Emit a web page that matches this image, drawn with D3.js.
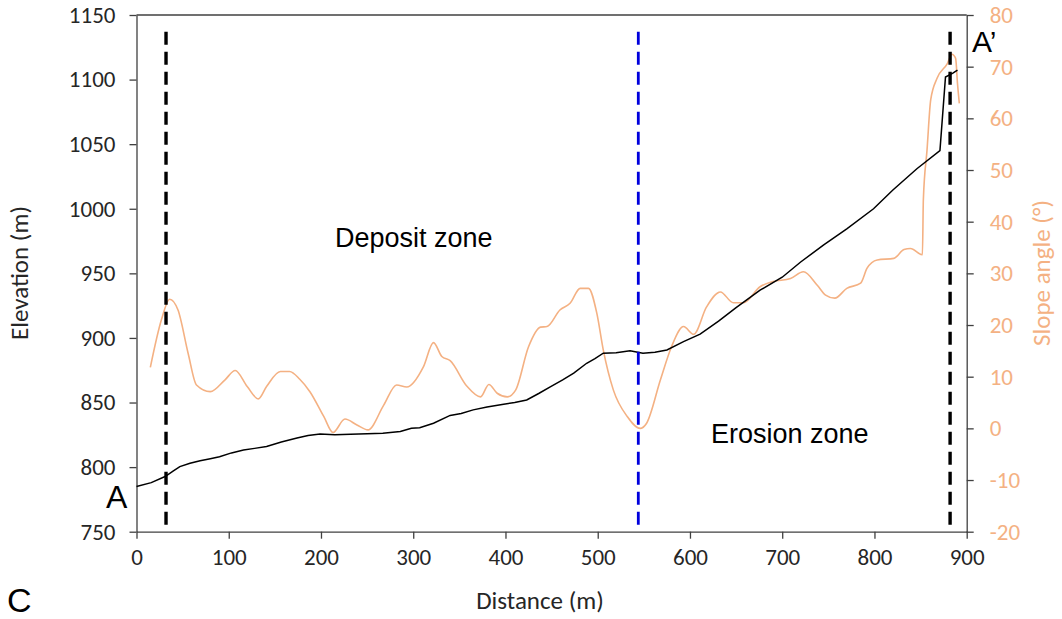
<!DOCTYPE html>
<html>
<head>
<meta charset="utf-8">
<script src="https://cdn.jsdelivr.net/npm/d3@7"></script>
<style>
  body { margin: 0; background: #fff; }
  svg { display: block; }
</style>
</head>
<body>
<div id="chart"></div>
<script>
// elevation profile (black line)
var elevDist = [0, 16, 31, 40, 47, 58, 69, 80, 90, 103, 116, 128, 141, 157, 174, 186, 199, 215, 232, 250, 267, 286, 298, 307, 322, 340, 352, 365, 380, 398, 410, 423, 436, 449, 462, 474, 488, 497, 506, 520, 535, 549, 562, 575, 593, 611, 631, 650, 676, 700, 720, 745, 770, 799, 820, 846, 871, 877, 885, 890];
var elevation = [785, 788, 792.7, 797, 800.4, 803, 805, 806.5, 808, 811, 813.3, 814.5, 816, 819.5, 822.6, 824.5, 825.7, 825, 825.5, 825.8, 826.2, 827.5, 830, 830.5, 834, 840, 841.5, 844.3, 846.5, 848.7, 850, 852, 857, 862.3, 867.5, 872.7, 880.4, 884, 888.2, 888.5, 890, 888.2, 889, 890.7, 897.2, 903, 913, 923.5, 937, 947, 958.8, 972, 984.5, 1000, 1014.5, 1031, 1045, 1102, 1105, 1107.4];

// slope angle (orange line)
var slopeDist = [15, 27, 36, 45, 56, 65, 80, 96, 107, 120, 132, 141, 156, 166, 177, 188, 203, 213, 226, 239, 251, 268, 282, 293, 311, 322, 331, 340, 358, 373, 382, 391, 402, 411, 425, 438, 445, 459, 470, 481, 490, 499, 506, 517, 532, 546, 553, 568, 580, 593, 604, 618, 633, 647, 658, 676, 690, 709, 723, 738, 747, 757, 770, 785, 792, 803, 821, 832, 839, 852, 853, 857, 861, 868, 879, 884, 888, 890, 892];
var slope = [11.8, 21, 25, 22.9, 14.5, 8.4, 7.1, 9.4, 11.2, 8.1, 5.7, 8.1, 11, 11, 9.5, 7.1, 2.3, -0.8, 1.8, 0.65, -0.3, 4.5, 8.4, 8, 11.9, 16.6, 13.9, 13.1, 8.2, 6.1, 8.5, 6.8, 6.1, 7.4, 15.8, 19.6, 19.7, 22.9, 24.2, 27.1, 27.1, 22.3, 15.2, 7.4, 2.3, 0, 1, 9.4, 15.8, 19.7, 18.2, 23.5, 26.4, 24.3, 24.3, 27.4, 28.4, 29, 30.3, 27.7, 25.8, 25.2, 27.1, 28.1, 31, 32.6, 32.9, 34.6, 34.8, 33.6, 44.2, 53.9, 63.6, 67.8, 70.6, 72.4, 71.6, 66.8, 62.9];

// zone boundaries (m)
var boundaries = [32, 544, 882];
var boundaryColors = ["#000000", "#0000dd", "#000000"];

var xTicks = [0, 100, 200, 300, 400, 500, 600, 700, 800, 900];
var leftTicks = [750, 800, 850, 900, 950, 1000, 1050, 1100, 1150];
var rightTicks = [-20, -10, 0, 10, 20, 30, 40, 50, 60, 70, 80];

var width = 1062, height = 619;
var margin = {top: 15, right: 95, bottom: 87, left: 136.5};
var orange = "#f4b183";
var tickFont = "Carlito, Lato, sans-serif";
var textFont = "'Liberation Sans', Arial, sans-serif";
var fmt = function(d) { return String(d); };

var svg = d3.select("#chart")
  .append("svg")
  .attr("width", width)
  .attr("height", height);

var x = d3.scaleLinear().domain([0, 900]).range([margin.left, width - margin.right - 0.3]);
var yL = d3.scaleLinear().domain([750, 1150]).range([height - margin.bottom - 0.3, margin.top]);
var yR = d3.scaleLinear().domain([-20, 80]).range([height - margin.bottom - 0.3, margin.top]);

// top frame line
svg.append("line")
  .attr("x1", x(0)).attr("x2", x(900))
  .attr("y1", yL(1150)).attr("y2", yL(1150))
  .attr("stroke", "#404040").attr("stroke-width", 1.3);

// bottom axis
var gx = svg.append("g")
  .attr("transform", "translate(0," + yL(750) + ")")
  .call(d3.axisBottom(x).tickValues(xTicks).tickFormat(fmt).tickSize(7).tickSizeOuter(0).tickPadding(10));
gx.selectAll("text").style("font-size", "23px").style("font-family", tickFont).attr("fill", "#262626");

// left axis
var gl = svg.append("g")
  .attr("transform", "translate(" + x(0) + ",0)")
  .call(d3.axisLeft(yL).tickValues(leftTicks).tickFormat(fmt).tickSize(7).tickSizeOuter(0).tickPadding(14));
gl.selectAll("text").style("font-size", "23px").style("font-family", tickFont).attr("fill", "#262626");

// right axis
var gr = svg.append("g")
  .attr("transform", "translate(" + x(900) + ",0)")
  .call(d3.axisRight(yR).tickValues(rightTicks).tickFormat(fmt).tickSize(7).tickSizeOuter(0).tickPadding(16));
gr.selectAll("text").style("font-size", "23px").style("font-family", tickFont).attr("fill", orange);

svg.selectAll(".domain").attr("stroke", "#404040").attr("stroke-width", 1.3);
svg.selectAll(".tick line").attr("stroke", "#404040").attr("stroke-width", 1.3);

// slope line
var slopeData = slopeDist.map(function(d, i) { return [d, slope[i]]; });
svg.append("path")
  .datum(slopeData)
  .attr("fill", "none")
  .attr("stroke", orange)
  .attr("stroke-width", 1.6)
  .attr("d", d3.line()
    .curve(d3.curveMonotoneX)
    .x(function(d) { return x(d[0]); })
    .y(function(d) { return yR(d[1]); }));

// elevation line
var elevData = elevDist.map(function(d, i) { return [d, elevation[i]]; });
svg.append("path")
  .datum(elevData)
  .attr("fill", "none")
  .attr("stroke", "#000")
  .attr("stroke-width", 1.5)
  .attr("d", d3.line()
    .x(function(d) { return x(d[0]); })
    .y(function(d) { return yL(d[1]); }));

// dashed boundary lines
svg.selectAll(".boundary")
  .data(boundaries)
  .enter()
  .append("line")
    .attr("class", "boundary")
    .attr("x1", function(d) { return x(d); })
    .attr("x2", function(d) { return x(d); })
    .attr("y1", yL(1137))
    .attr("y2", yL(750))
    .attr("stroke", function(d, i) { return boundaryColors[i]; })
    .attr("stroke-width", function(d, i) { return i == 1 ? 2.8 : 3.4; })
    .attr("stroke-dasharray", "13,7");

// annotations
svg.append("text")
  .attr("x", 335).attr("y", 247)
  .style("font-family", textFont).style("font-size", "27px")
  .text("Deposit zone");

svg.append("text")
  .attr("x", 711).attr("y", 443)
  .style("font-family", textFont).style("font-size", "27px")
  .text("Erosion zone");

svg.append("text")
  .attr("x", 106).attr("y", 508)
  .style("font-family", textFont).style("font-size", "32px")
  .text("A");

svg.append("text")
  .attr("x", 972).attr("y", 52)
  .style("font-family", textFont).style("font-size", "30px")
  .text("A\u2019");

svg.append("text")
  .attr("x", 7).attr("y", 612)
  .style("font-family", textFont).style("font-size", "34px")
  .text("C");

// axis titles
svg.append("text")
  .attr("x", 540).attr("y", 609)
  .attr("text-anchor", "middle")
  .style("font-family", tickFont).style("font-size", "25px")
  .attr("fill", "#262626")
  .text("Distance (m)");

svg.append("text")
  .attr("transform", "translate(28," + 273 + ") rotate(-90)")
  .attr("text-anchor", "middle")
  .style("font-family", tickFont).style("font-size", "25px")
  .attr("fill", "#262626")
  .text("Elevation (m)");

svg.append("text")
  .attr("transform", "translate(1050," + 273 + ") rotate(-90)")
  .attr("text-anchor", "middle")
  .style("font-family", tickFont).style("font-size", "25px")
  .attr("fill", orange)
  .text("Slope angle (\u00b0)");
</script>
</body>
</html>
